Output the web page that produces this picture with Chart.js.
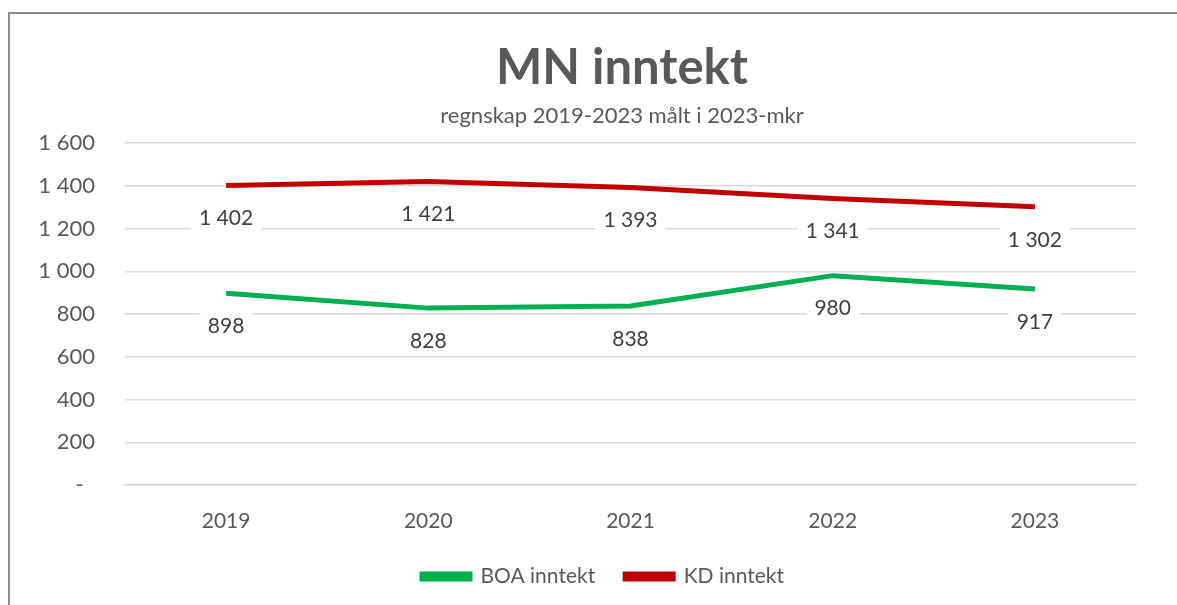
<!DOCTYPE html>
<html>
<head>
<meta charset="utf-8">
<script src="https://cdn.jsdelivr.net/npm/chart.js@4.4.1/dist/chart.umd.min.js"></script>
<style>
  html, body { margin: 0; background: #fff; overflow: hidden; }
  #myChart { display: block; }
</style>
</head>
<body>
<canvas id="myChart" width="1177" height="605"></canvas>
<script>
// data
let years = ['2019', '2020', '2021', '2022', '2023'];
let boaInntekt = [898, 828, 838, 980, 917];
let kdInntekt = [1402, 1421, 1393, 1341, 1302];

const fontName = 'Lato, "Open Sans", sans-serif';

// 1 600 style numbers, zero shown as a dash
function fmt(v) {
    if (v === 0) return '-  ';
    return String(v).replace(/\B(?=(\d{3})+(?!\d))/g, ' ');
}

// grey frame on the left and top edge, the rest of it is cut off in the original
const frame = {
    id: 'frame',
    beforeDraw(chart) {
        let ctx = chart.ctx;
        ctx.save();
        ctx.fillStyle = '#ffffff';
        ctx.fillRect(0, 0, chart.width, chart.height);
        ctx.strokeStyle = '#8c8c8c';
        ctx.lineWidth = 2;
        ctx.beginPath();
        ctx.moveTo(9, chart.height);
        ctx.lineTo(9, 13);
        ctx.lineTo(chart.width, 13);
        ctx.stroke();
        ctx.restore();
    }
};

// labels drawn under each point, with a white box behind them like excel does
const pointLabels = {
    id: 'pointLabels',
    afterDatasetsDraw(chart) {
        let ctx = chart.ctx;
        ctx.save();
        ctx.font = '21px ' + fontName;
        ctx.textAlign = 'center';
        ctx.textBaseline = 'middle';
        chart.data.datasets.forEach((ds, i) => {
            let meta = chart.getDatasetMeta(i);
            meta.data.forEach((pt, j) => {
                let txt = fmt(ds.data[j]);
                let w = ctx.measureText(txt).width;
                let y = pt.y + 33;
                ctx.fillStyle = '#ffffff';
                ctx.fillRect(pt.x - w / 2 - 8, y - 13, w + 16, 26);
                ctx.fillStyle = '#404040';
                ctx.fillText(txt, pt.x, y);
            });
        });
        ctx.restore();
    }
};

// titles and legend are centred on the whole frame in the original, not on the plot
const boxShift = {
    id: 'boxShift',
    afterLayout(chart) {
        chart.boxes.forEach(b => {
            let dx = 0;
            if (b === chart.legend) dx = 35;
            else if (b.options && b.options.text) dx = 54;
            b.left += dx;
            b.right += dx;
        });
    }
};

const config = {
    type: 'line',
    data: {
        labels: years,
        datasets: [{
            label: 'BOA inntekt',
            data: boaInntekt,
            borderColor: '#00b050',
            backgroundColor: '#00b050',
            borderWidth: 5,
            pointRadius: 0,
            tension: 0
        },
        {
            label: 'KD inntekt',
            data: kdInntekt,
            borderColor: '#c00000',
            backgroundColor: '#c00000',
            borderWidth: 5,
            pointRadius: 0,
            tension: 0
        }]
    },
    options: {
        responsive: false,
        animation: false,
        layout: { padding: { left: 0, right: 41, top: 0, bottom: 8 } },
        plugins: {
            title: {
                display: true,
                text: 'MN inntekt',
                color: '#595959',
                font: { family: fontName, size: 49, weight: 'bold' },
                padding: { top: 39, bottom: 0 }
            },
            subtitle: {
                display: true,
                text: 'regnskap 2019-2023 målt i 2023-mkr',
                color: '#595959',
                font: { family: fontName, size: 22 },
                padding: { top: 5, bottom: 14 }
            },
            legend: {
                position: 'bottom',
                labels: {
                    color: '#595959',
                    font: { family: fontName, size: 21 },
                    boxWidth: 48,
                    boxHeight: 5,
                    padding: 30
                }
            },
            tooltip: { enabled: false }
        },
        scales: {
            x: {
                offset: true,
                grid: { display: false, drawTicks: false },
                border: { color: '#d9d9d9', width: 1.5 },
                ticks: {
                    color: '#595959',
                    font: { family: fontName, size: 21 },
                    padding: 24
                },
                afterFit(scale) { scale.height = 51; }
            },
            y: {
                min: 0,
                max: 1600,
                ticks: {
                    stepSize: 200,
                    color: '#595959',
                    font: { family: fontName, size: 22 },
                    padding: 30,
                    callback: v => fmt(v)
                },
                grid: { color: '#d9d9d9', lineWidth: 1.5, drawTicks: false },
                border: { display: false },
                afterFit(scale) { scale.width = 125; }
            }
        }
    },
    plugins: [frame, pointLabels, boxShift]
};

let myChart = new Chart(document.getElementById('myChart'), config);
</script>
</body>
</html>
